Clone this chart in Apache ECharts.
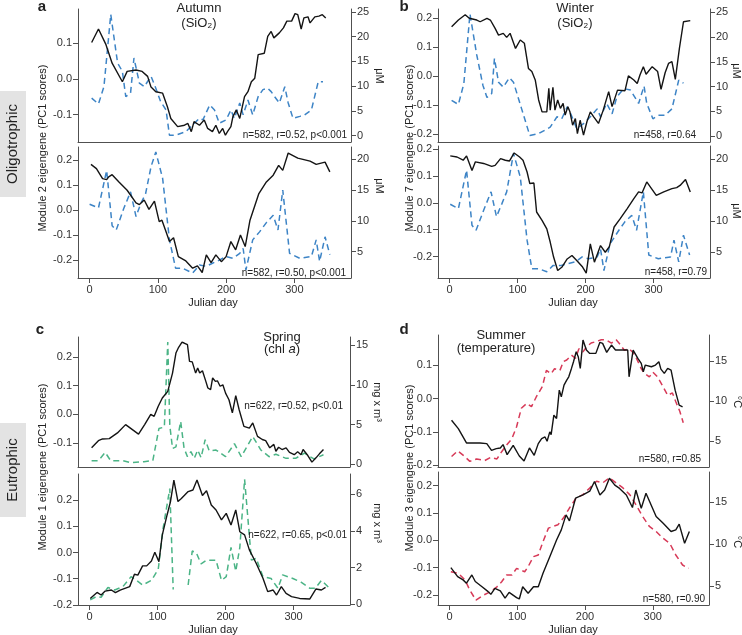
<!DOCTYPE html>
<html><head><meta charset="utf-8">
<script src="https://cdn.jsdelivr.net/npm/echarts@6/dist/echarts.min.js"></script>
<style>html,body{margin:0;padding:0;background:#fff}#c{width:742px;height:635px}</style>
</head><body><div id="c"></div>
<script>
// ---------------- DATA ----------------
const xTicks = [0, 100, 200, 300];

const autumnTopEigen = [[3,0.102],[13,0.140],[24,0.096],[33,0.044],[48,-0.008],[55,0.021],[68,0.025],[77,0.021],[85,0.007],[90,-0.023],[97,-0.036],[107,-0.040],[114,-0.078],[119,-0.111],[129,-0.134],[139,-0.130],[144,-0.125],[149,-0.148],[153,-0.120],[161,-0.130],[168,-0.115],[173,-0.139],[180,-0.148],[185,-0.130],[190,-0.153],[195,-0.139],[199,-0.158],[202,-0.148],[207,-0.134],[210,-0.106],[215,-0.087],[220,-0.111],[227,-0.050],[232,-0.036],[237,-0.008],[242,0.002],[247,0.068],[256,0.072],[261,0.119],[266,0.133],[270,0.115],[278,0.129],[284,0.143],[289,0.162],[296,0.162],[301,0.183],[305,0.180],[310,0.140],[314,0.171],[320,0.174],[323,0.157],[330,0.174],[336,0.176],[341,0.180],[346,0.171]];
const autumnTopSiO2 = [[3,7.6],[13,6.4],[21,9.9],[31,24.5],[41,14.7],[48,13.0],[53,7.9],[60,8.6],[65,15.7],[73,10.6],[80,9.9],[90,12.0],[97,9.6],[104,6.9],[112,5.2],[117,0.1],[126,0.1],[141,0.8],[151,2.2],[161,3.5],[166,3.2],[176,6.2],[183,5.2],[190,2.5],[200,3.2],[207,5.2],[212,3.5],[220,6.6],[225,4.2],[232,7.2],[239,4.2],[247,7.9],[254,9.3],[261,9.6],[266,8.9],[271,7.9],[278,6.6],[286,9.9],[291,6.6],[298,3.5],[308,3.9],[315,4.2],[325,5.2],[335,10.9],[342,10.9]];
const autumnBotEigen = [[2,0.182],[10,0.165],[19,0.125],[25,0.121],[28,0.132],[33,0.141],[43,0.112],[55,0.079],[68,0.029],[73,0.022],[80,0.040],[87,0.003],[95,0.036],[102,-0.046],[106,-0.040],[112,-0.086],[117,-0.125],[123,-0.110],[130,-0.185],[141,-0.202],[151,-0.231],[158,-0.222],[165,-0.248],[171,-0.178],[178,-0.209],[185,-0.178],[193,-0.205],[200,-0.185],[207,-0.125],[214,-0.158],[221,-0.099],[228,-0.145],[235,-0.040],[248,0.066],[259,0.112],[269,0.139],[277,0.178],[283,0.158],[291,0.227],[305,0.207],[323,0.195],[332,0.182],[345,0.191],[352,0.152]];
const autumnBotSiO2 = [[0,12.7],[13,12.1],[25,18.2],[33,9.2],[39,8.5],[50,12.0],[60,14.7],[68,10.7],[75,12.8],[82,14.4],[90,18.8],[97,21.2],[107,16.9],[117,6.9],[126,2.3],[136,2.3],[151,1.5],[161,2.8],[171,2.6],[180,3.1],[190,3.6],[200,4.2],[210,3.9],[220,4.7],[225,5.5],[229,2.0],[239,6.9],[249,8.2],[259,9.7],[269,10.9],[276,8.5],[283,15.0],[293,4.7],[308,3.9],[325,4.2],[332,6.9],[337,3.4],[345,7.4],[352,4.5]];

const winterTopEigen = [[3,0.171],[13,0.194],[23,0.212],[29,0.200],[40,0.194],[45,0.188],[55,0.200],[60,0.194],[67,0.165],[72,0.142],[79,0.148],[84,0.134],[89,0.148],[97,0.096],[104,0.125],[110,0.114],[116,0.027],[121,0.016],[126,-0.013],[131,-0.082],[136,-0.123],[143,-0.123],[146,-0.042],[148,-0.117],[152,-0.038],[155,-0.117],[159,-0.082],[163,-0.111],[167,-0.094],[170,-0.134],[174,-0.105],[177,-0.123],[181,-0.169],[185,-0.146],[188,-0.198],[192,-0.152],[197,-0.203],[202,-0.157],[207,-0.123],[212,-0.140],[219,-0.163],[226,-0.117],[234,-0.053],[239,-0.105],[247,-0.048],[258,-0.050],[263,0.001],[271,-0.013],[276,-0.025],[280,0.004],[285,0.033],[289,0.007],[298,0.033],[306,0.016],[311,-0.045],[317,0.012],[322,0.044],[327,0.050],[332,-0.011],[338,0.096],[344,0.188],[354,0.192]];
const winterTopSiO2 = [[3,7.2],[13,6.4],[21,10.6],[30,24.7],[40,16.4],[49,10.3],[55,7.8],[62,8.6],[66,15.7],[72,10.9],[79,9.9],[88,11.8],[94,10.9],[106,5.5],[118,0.1],[131,0.5],[148,1.8],[158,3.9],[165,3.5],[173,5.9],[177,4.9],[187,1.5],[197,2.5],[207,3.9],[217,5.5],[222,3.9],[231,6.6],[239,4.5],[246,7.9],[256,9.6],[266,9.3],[271,8.2],[278,6.6],[286,10.1],[290,6.6],[299,3.5],[307,4.2],[317,4.2],[327,5.5],[337,11.3],[344,10.7]];
const winterBotEigen = [[1,0.175],[11,0.171],[20,0.159],[25,0.175],[33,0.121],[38,0.153],[50,0.147],[62,0.136],[67,0.140],[75,0.165],[82,0.159],[88,0.156],[95,0.186],[103,0.171],[108,0.159],[114,0.115],[118,0.072],[124,0.074],[128,-0.034],[136,-0.065],[143,-0.097],[148,-0.146],[153,-0.202],[159,-0.252],[165,-0.240],[173,-0.209],[180,-0.196],[187,-0.215],[195,-0.237],[201,-0.262],[207,-0.153],[213,-0.221],[222,-0.159],[229,-0.184],[235,-0.163],[242,-0.090],[251,-0.059],[261,-0.022],[271,0.016],[278,0.041],[283,0.037],[290,0.078],[304,0.028],[315,0.041],[327,0.053],[334,0.057],[339,0.065],[347,0.087],[354,0.041]];
const winterBotSiO2 = [[1,12.7],[13,12.0],[25,18.2],[33,9.3],[39,8.5],[50,11.7],[61,14.7],[69,10.7],[77,12.8],[84,14.7],[94,20.9],[104,17.1],[114,6.9],[121,2.3],[131,2.3],[143,1.8],[152,2.8],[163,2.8],[173,3.1],[185,3.4],[195,4.2],[204,3.9],[217,4.2],[222,5.5],[227,2.0],[236,6.3],[249,8.5],[258,9.9],[268,10.9],[275,8.5],[285,14.7],[293,4.5],[307,3.9],[325,4.2],[330,6.9],[337,3.4],[344,7.7],[353,4.5]];

const springTopEigen = [[3,-0.117],[13,-0.092],[19,-0.086],[29,-0.085],[41,-0.065],[53,-0.036],[72,-0.069],[81,-0.036],[90,0.000],[95,-0.007],[101,0.028],[107,0.057],[115,0.080],[117,0.078],[122,0.144],[127,0.214],[131,0.234],[136,0.252],[139,0.249],[144,0.243],[147,0.185],[151,0.183],[156,0.144],[159,0.162],[162,0.144],[166,0.152],[171,0.115],[174,0.092],[178,0.086],[181,0.127],[185,0.115],[188,0.117],[192,0.098],[196,0.103],[200,0.074],[205,0.051],[210,0.005],[215,0.065],[220,0.016],[227,-0.042],[235,-0.048],[240,-0.030],[247,-0.077],[254,-0.088],[259,-0.092],[265,-0.117],[271,-0.105],[274,-0.129],[278,-0.115],[283,-0.123],[289,-0.117],[294,-0.133],[301,-0.141],[306,-0.131],[311,-0.141],[314,-0.123],[321,-0.144],[327,-0.167],[333,-0.152],[338,-0.138],[344,-0.123]];
const springTopChl = [[3,0.46],[13,0.46],[23,1.5],[31,0.46],[49,0.46],[61,0.2],[80,0.33],[93,0.46],[102,4.5],[110,4.7],[115,15.4],[118,4.9],[122,2.0],[127,2.2],[134,5.4],[139,2.0],[144,0.96],[149,1.6],[154,0.75],[159,1.8],[164,0.84],[170,3.1],[176,1.7],[186,1.8],[200,0.96],[213,2.6],[223,0.96],[240,3.5],[252,1.8],[264,0.96],[274,1.26],[289,0.75],[303,0.75],[316,1.4],[330,0.67],[344,1.2]];
const springBotEigen = [[1,-0.175],[11,-0.152],[17,-0.162],[23,-0.147],[32,-0.143],[38,-0.153],[45,-0.143],[59,-0.130],[66,-0.083],[71,-0.086],[78,-0.051],[84,-0.051],[91,-0.032],[96,0.001],[102,-0.035],[107,0.067],[114,0.143],[119,0.194],[124,0.276],[130,0.194],[135,0.206],[145,0.232],[152,0.238],[158,0.276],[166,0.217],[172,0.235],[179,0.181],[186,0.162],[194,0.124],[201,0.149],[208,0.105],[215,0.162],[221,0.079],[228,0.067],[235,0.010],[245,-0.041],[255,-0.098],[262,-0.149],[270,-0.143],[275,-0.162],[282,-0.130],[289,-0.156],[297,-0.168],[309,-0.175],[324,-0.177],[333,-0.139],[341,-0.143],[347,-0.133]];
const springBotChl = [[1,0.24],[10,0.42],[17,0.38],[27,0.91],[37,0.78],[49,0.96],[61,1.5],[69,1.3],[78,1.05],[91,1.3],[101,1.9],[108,4.1],[118,6.3],[123,0.8],[134,null],[145,1.05],[151,2.9],[157,2.8],[164,2.2],[172,2.4],[186,2.4],[194,1.3],[201,1.5],[208,3.1],[215,1.8],[221,3.1],[228,6.8],[238,2.4],[245,2.5],[255,1.5],[267,1.4],[277,0.87],[284,1.6],[299,1.4],[311,1.2],[324,0.87],[332,0.87],[341,1.3],[353,0.87]];

const summerTopEigen = [[3,-0.065],[13,-0.090],[25,-0.133],[45,-0.133],[55,-0.135],[62,-0.155],[69,-0.150],[75,-0.148],[79,-0.138],[85,-0.168],[94,-0.140],[103,-0.172],[110,-0.187],[118,-0.148],[125,-0.170],[131,-0.135],[136,-0.120],[141,-0.115],[144,-0.128],[148,-0.100],[150,-0.108],[154,-0.050],[158,-0.060],[162,0.025],[165,0.005],[169,0.040],[173,0.055],[176,0.065],[180,0.090],[183,0.110],[187,0.140],[190,0.125],[193,0.090],[197,0.175],[202,0.145],[207,0.135],[216,0.135],[222,0.168],[226,0.165],[232,0.138],[239,0.160],[245,0.145],[256,0.145],[263,0.145],[265,0.065],[271,0.145],[278,0.120],[283,0.105],[286,0.080],[289,0.100],[298,0.095],[304,0.100],[309,0.110],[312,0.088],[317,0.075],[322,0.090],[327,0.085],[333,0.025],[339,-0.020],[344,-0.025]];
const summerTopTemp = [[3,3.1],[12,3.8],[21,3.2],[30,2.5],[40,2.8],[52,2.6],[61,3.0],[70,2.8],[77,3.7],[84,4.5],[92,5.3],[99,6.8],[106,9.1],[114,9.7],[121,9.3],[128,10.5],[137,11.8],[143,13.8],[150,13.4],[155,14.0],[163,13.8],[168,14.9],[173,15.1],[180,15.7],[186,15.3],[191,16.5],[197,16.1],[202,16.7],[209,17.2],[217,17.4],[224,17.6],[231,17.6],[239,17.2],[246,17.6],[252,17.0],[258,16.3],[265,16.5],[271,16.0],[276,15.3],[283,14.0],[288,13.4],[295,13.0],[300,13.6],[307,13.0],[315,11.8],[322,10.7],[329,11.0],[334,9.9],[340,8.7],[345,7.3]];
const summerBotEigen = [[2,-0.100],[12,-0.133],[20,-0.145],[25,-0.157],[33,-0.127],[38,-0.151],[48,-0.170],[57,-0.188],[61,-0.198],[67,-0.176],[75,-0.185],[82,-0.212],[88,-0.191],[99,-0.210],[103,-0.215],[108,-0.170],[116,-0.194],[124,-0.170],[131,-0.170],[138,-0.121],[148,-0.060],[158,0.001],[165,0.038],[172,0.093],[177,0.071],[186,0.154],[197,0.166],[207,0.180],[214,0.215],[222,0.166],[229,0.184],[236,0.227],[244,0.202],[251,0.190],[261,0.166],[270,0.120],[275,0.184],[283,0.117],[290,0.172],[305,0.087],[315,0.063],[327,0.032],[334,0.038],[339,0.059],[347,-0.011],[354,0.032]];
const summerBotTemp = [[2,6.7],[13,6.5],[23,5.7],[30,4.5],[39,3.3],[50,3.9],[60,4.3],[70,4.9],[77,5.5],[84,6.3],[92,6.3],[99,7.1],[111,6.7],[116,7.3],[124,8.5],[131,8.7],[138,10.3],[146,11.9],[153,12.1],[160,12.3],[168,13.1],[177,14.3],[187,15.5],[197,15.9],[207,16.7],[217,17.5],[226,17.3],[236,17.9],[246,17.3],[256,16.7],[266,15.9],[275,14.7],[285,13.3],[295,12.1],[305,11.5],[315,10.7],[325,10.1],[334,8.7],[344,7.5],[353,7.1]];

const leftTicks = {
  aTop:[-0.1,0,0.1], aBot:[-0.2,-0.1,0,0.1,0.2],
  bTop:[-0.2,-0.1,0,0.1,0.2], bBot:[-0.2,-0.1,0,0.1,0.2],
  cTop:[-0.1,0,0.1,0.2], cBot:[-0.2,-0.1,0,0.1,0.2],
  dTop:[-0.2,-0.1,0,0.1], dBot:[-0.2,-0.1,0,0.1,0.2]
};
const rightTicks = {
  aTop:[0,5,10,15,20,25], aBot:[5,10,15,20],
  bTop:[0,5,10,15,20,25], bBot:[5,10,15,20],
  cTop:[0,5,10,15], cBot:[0,2,4,6],
  dTop:[5,10,15], dBot:[5,10,15]
};

// ---------------- LAYOUT ----------------
const FONT = 'Liberation Sans, Arial, Helvetica, sans-serif';
const AX = '#505050';
const BLUE = '#3d84c6', GREEN = '#4bb486', RED = '#d73a58', BLACK = '#141414';

const panels = [
  {key:'aTop', g:[78,9,273,133],  x:[-17,383], yl:[-0.177,0.196], yr:[-1.28,25.6], eig:autumnTopEigen, env:autumnTopSiO2, col:BLUE, xl:false},
  {key:'aBot', g:[78,147,273,131],x:[-17,383], yl:[-0.270,0.251], yr:[0.7,22.0],   eig:autumnBotEigen, env:autumnBotSiO2, col:BLUE, xl:true},
  {key:'bTop', g:[438,9,272,133], x:[-17,383], yl:[-0.227,0.232], yr:[-1.2,25.7],  eig:winterTopEigen, env:winterTopSiO2, col:BLUE, xl:false},
  {key:'bBot', g:[438,146,272,132],x:[-17,383],yl:[-0.280,0.212], yr:[0.8,22.1],   eig:winterBotEigen, env:winterBotSiO2, col:BLUE, xl:true},
  {key:'cTop', g:[78,337,272,130],x:[-17,383], yl:[-0.184,0.270], yr:[-0.34,16.04],eig:springTopEigen, env:springTopChl, col:GREEN, xl:false},
  {key:'cBot', g:[78,474,272,131],x:[-17,383], yl:[-0.200,0.299], yr:[-0.04,7.09], eig:springBotEigen, env:springBotChl, col:GREEN, xl:true},
  {key:'dTop', g:[438,335,271,132],x:[-17,383],yl:[-0.205,0.190], yr:[1.8,18.2],   eig:summerTopEigen, env:summerTopTemp, col:RED, xl:false},
  {key:'dBot', g:[438,472,271,133],x:[-17,383],yl:[-0.237,0.250], yr:[2.73,18.6],  eig:summerBotEigen, env:summerBotTemp, col:RED, xl:true}
];

const grid=[], xAxis=[], yAxis=[], series=[];
panels.forEach((p,i)=>{
  grid.push({left:p.g[0], top:p.g[1], width:p.g[2], height:p.g[3], containLabel:false});
  xAxis.push({type:'value', gridIndex:i, min:p.x[0], max:p.x[1],
    axisLine:{show:true, onZero:false, lineStyle:{color:AX,width:1}},
    axisTick:{show:p.xl, customValues:xTicks, length:5, lineStyle:{color:AX}},
    axisLabel:{show:p.xl, customValues:xTicks, color:'#333', fontSize:11, fontFamily:FONT, margin:6},
    splitLine:{show:false}});
  yAxis.push({type:'value', gridIndex:i, position:'left', min:p.yl[0], max:p.yl[1],
    axisLine:{show:true, onZero:false, lineStyle:{color:AX,width:1}},
    axisTick:{show:true, customValues:leftTicks[p.key], length:5, lineStyle:{color:AX}},
    axisLabel:{show:true, customValues:leftTicks[p.key], color:'#333', fontSize:11, fontFamily:FONT, margin:6,
      formatter:v=>v.toFixed(1)},
    splitLine:{show:false}});
  yAxis.push({type:'value', gridIndex:i, position:'right', min:p.yr[0], max:p.yr[1],
    axisLine:{show:true, onZero:false, lineStyle:{color:AX,width:1}},
    axisTick:{show:true, customValues:rightTicks[p.key], length:5, lineStyle:{color:AX}},
    axisLabel:{show:true, customValues:rightTicks[p.key], color:'#333', fontSize:11, fontFamily:FONT, margin:6,
      formatter:v=>String(Math.round(v))},
    splitLine:{show:false}});
  series.push({type:'line', xAxisIndex:i, yAxisIndex:2*i+1, data:p.env, showSymbol:false, symbol:'none',
    connectNulls:false, lineStyle:{color:p.col, width:1.5, type:[6,4]}, z:2});
  series.push({type:'line', xAxisIndex:i, yAxisIndex:2*i, data:p.eig, showSymbol:false, symbol:'none',
    lineStyle:{color:BLACK, width:1.4}, z:3});
});

function T(x,y,text,o){
  o=o||{};
  return {type:'text', x:x, y:y, rotation:o.rot||0, z:10, silent:true,
    style:Object.assign({text:text, fill:o.fill||'#222', font:(o.weight||'normal')+' '+(o.size||11)+'px '+FONT,
      textAlign:o.align||'center', textVerticalAlign:'middle', align:o.align||'center', verticalAlign:'middle'}, o.extra||{})};
}
const R90 = Math.PI/2;
const graphic = [
  {type:'rect', shape:{x:0,y:91,width:26,height:106}, style:{fill:'#e3e3e3'}, silent:true},
  {type:'rect', shape:{x:0,y:423,width:26,height:94}, style:{fill:'#e3e3e3'}, silent:true},
  T(13,144,'Oligotrophic',{rot:R90,size:15}),
  T(13,470,'Eutrophic',{rot:R90,size:15}),
  T(42,7,'a',{size:15,weight:'bold'}), T(404,7,'b',{size:15,weight:'bold'}),
  T(40,330,'c',{size:15,weight:'bold'}), T(404,330,'d',{size:15,weight:'bold'}),
  T(199,8,'Autumn',{size:13}), T(199,23,'(SiO₂)',{size:13}),
  T(575,8,'Winter',{size:13}), T(575,23,'(SiO₂)',{size:13}),
  T(282,337,'Spring',{size:13}),
  {type:'text', x:282, y:349, z:10, silent:true, style:{text:'{n|(chl }{i|a}{n|)}', textAlign:'center', textVerticalAlign:'middle', align:'center', verticalAlign:'middle',
    rich:{n:{fontSize:13, fontFamily:FONT, fill:'#222', color:'#222'}, i:{fontSize:13, fontFamily:FONT, fontStyle:'italic', fill:'#222', color:'#222'}}}},
  T(501,335,'Summer',{size:13}), T(496,348,'(temperature)',{size:13}),
  T(43,148,'Module 2 eigengene (PC1 scores)',{rot:R90,size:11}),
  T(410,148,'Module 7 eigengene (PC1 scores)',{rot:R90,size:11}),
  T(43,467,'Module 1 eigengene (PC1 scores)',{rot:R90,size:11}),
  T(410,468,'Module 3 eigengene (PC1 scores)',{rot:R90,size:11}),
  T(379,76,'μM',{rot:-R90,size:11}), T(379,186,'μM',{rot:-R90,size:11}),
  T(736,71,'μM',{rot:-R90,size:11}), T(736,211,'μM',{rot:-R90,size:11}),
  T(377,402,'mg x m³',{rot:-R90,size:11}), T(377,523,'mg x m³',{rot:-R90,size:11}),
  T(737,402,'°C',{rot:-R90,size:11}), T(737,542,'°C',{rot:-R90,size:11}),
  T(213,303,'Julian day',{size:11}), T(573,303,'Julian day',{size:11}),
  T(213,630,'Julian day',{size:11}), T(573,630,'Julian day',{size:11}),
  T(347,135,'n=582, r=0.52, p<0.001',{align:'right',size:10}),
  T(346,273,'n=582, r=0.50, p<0.001',{align:'right',size:10}),
  T(696,135,'n=458, r=0.64',{align:'right',size:10}),
  T(707,272,'n=458, r=0.79',{align:'right',size:10}),
  T(343,406,'n=622, r=0.52, p<0.01',{align:'right',size:10}),
  T(347,535,'n=622, r=0.65, p<0.01',{align:'right',size:10}),
  T(701,459,'n=580, r=0.85',{align:'right',size:10}),
  T(705,599,'n=580, r=0.90',{align:'right',size:10})
];

const chart = echarts.init(document.getElementById('c'), null, {renderer:'canvas'});
chart.setOption({animation:false, backgroundColor:'#fff', grid, xAxis, yAxis, series, graphic});
</script></body></html>
